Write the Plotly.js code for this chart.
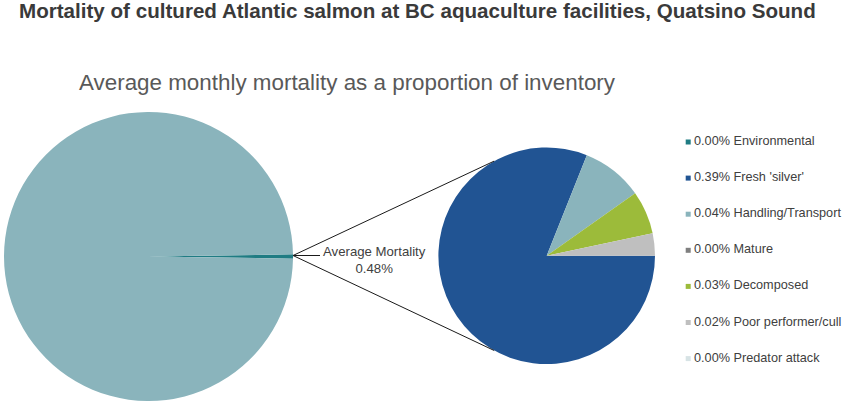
<!DOCTYPE html>
<html><head><meta charset="utf-8">
<script src="https://cdn.plot.ly/plotly-3.0.1.min.js"></script>
<style>html,body{margin:0;padding:0;background:#fff}</style>
</head><body><div id="chart" style="width:848px;height:404px"></div>
<script>
// ---- data ----
const categories = ["Environmental", "Fresh 'silver'", "Handling/Transport", "Mature", "Decomposed", "Poor performer/cull", "Predator attack"];
const mortalityPct = [0.000, 0.389, 0.044, 0.000, 0.031, 0.016, 0.000];
const categoryColors = ["#1F7C83", "#215493", "#8AB4BC", "#7F7F7F", "#9CBB3A", "#BFBFBF", "#D7E3E5"];
const overallLabels = ["Average Mortality", "Remaining inventory"];
const overallColors = ["#1F7C83", "#8AB4BC"];
const chartTitle = "Mortality of cultured Atlantic salmon at BC aquaculture facilities, Quatsino Sound";
const subTitle = "Average monthly mortality as a proportion of inventory";

// ---- derived ----
const avgMort = mortalityPct.reduce((a, b) => a + b, 0);
const overallPct = [avgMort, 100 - avgMort];

// ---- geometry (pixels) ----
const W = 848, H = 404;
const px = v => v / W, py = v => 1 - v / H;
const L = {cx: 148.5, cy: 256.5, r: 144.5};
const R = {cx: 546.7, cy: 255.8, r: 108.3};
const dom = g => ({x: [px(g.cx - g.r), px(g.cx + g.r)], y: [py(g.cy + g.r), py(g.cy - g.r)]});

const mortSliceDeg = overallPct[0] / 100 * 360;

const traces = [
  {
    type: 'pie', labels: overallLabels, values: overallPct, sort: false,
    direction: 'clockwise', rotation: 90 - mortSliceDeg / 2,
    marker: {colors: overallColors, line: {width: 0}},
    textinfo: 'none', hoverinfo: 'label+percent', showlegend: false,
    domain: dom(L)
  },
  {
    type: 'pie', labels: categories, values: mortalityPct, sort: false,
    direction: 'clockwise', rotation: 90,
    marker: {colors: categoryColors, line: {width: 0}},
    textinfo: 'none', hoverinfo: 'label+value', showlegend: false,
    domain: dom(R)
  }
];

const lineStyle = {color: '#1a1a1a', width: 1};
const startX = L.cx + L.r, startY = L.cy - 1;
const tang = 29 * Math.PI / 180;
const shapes = [
  {type: 'line', xref: 'paper', yref: 'paper', x0: px(startX), y0: py(startY),
   x1: px(R.cx - R.r * Math.sin(tang)), y1: py(R.cy - R.r * Math.cos(tang)), line: lineStyle},
  {type: 'line', xref: 'paper', yref: 'paper', x0: px(startX), y0: py(startY),
   x1: px(R.cx - R.r * Math.sin(tang)), y1: py(R.cy + R.r * Math.cos(tang)), line: lineStyle},
  {type: 'line', xref: 'paper', yref: 'paper', x0: px(startX), y0: py(startY),
   x1: px(320), y1: py(startY), line: lineStyle}
];

const fam = 'Liberation Sans, Arial, sans-serif';
const annotations = [
  {xref: 'paper', yref: 'paper', x: px(347.5), y: py(82.5), xanchor: 'center', yanchor: 'middle',
   text: subTitle, showarrow: false,
   font: {family: fam, size: 22.4, color: '#595959'}},
  {xref: 'paper', yref: 'paper', x: px(374.5), y: py(259.5), xanchor: 'center', yanchor: 'middle',
   text: overallLabels[0] + '<br>' + avgMort.toFixed(2) + '%', showarrow: false,
   font: {family: fam, size: 13.2, color: '#404040'}}
];

const legY0 = 142, legStep = 36.1;
categories.forEach((c, i) => {
  const yc = legY0 + i * legStep;
  shapes.push({type: 'rect', xref: 'paper', yref: 'paper',
    x0: px(685.7), x1: px(690.7), y0: py(yc + 2.5), y1: py(yc - 2.5),
    fillcolor: categoryColors[i], line: {width: 0}});
  annotations.push({xref: 'paper', yref: 'paper', x: px(692), y: py(yc - 1), xanchor: 'left', yanchor: 'middle',
    text: mortalityPct[i].toFixed(2) + '% ' + c, showarrow: false,
    font: {family: fam, size: 12.7, color: '#404040'}});
});

const layout = {
  width: W, height: H,
  margin: {l: 0, r: 0, t: 0, b: 0},
  paper_bgcolor: '#ffffff', plot_bgcolor: '#ffffff',
  title: {text: chartTitle, x: px(19), xanchor: 'left', xref: 'paper',
    y: py(11), yanchor: 'middle', yref: 'container',
    font: {family: fam, size: 20.6, weight: 'bold', color: '#3a3a3a'}},
  showlegend: false,
  shapes: shapes,
  annotations: annotations
};

Plotly.newPlot('chart', traces, layout, {displayModeBar: false, staticPlot: true});
</script>
</body></html>
